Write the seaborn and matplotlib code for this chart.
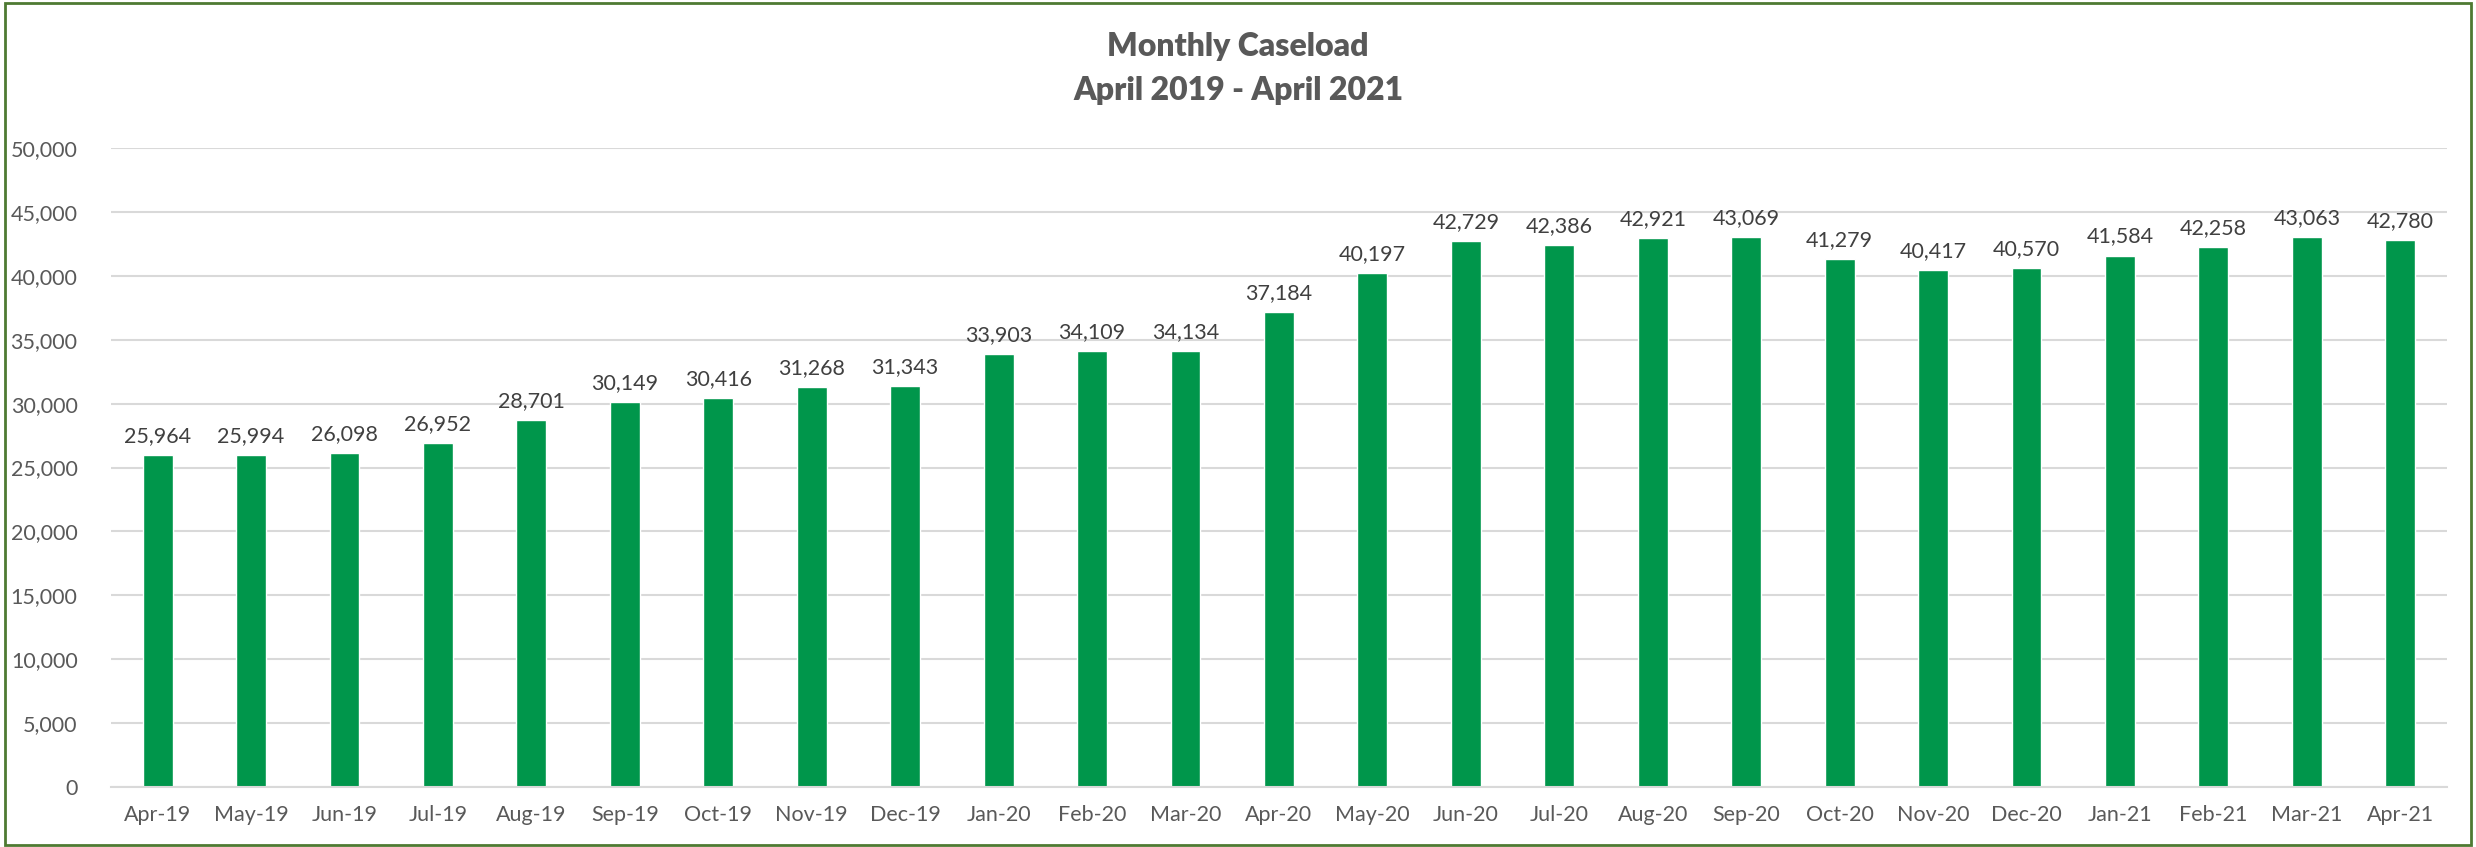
import pandas as pd
import matplotlib.pyplot as plt
import seaborn as sns
from matplotlib.ticker import FuncFormatter, FixedLocator
from matplotlib.patches import Rectangle

# -------------------------------
# Data
# -------------------------------
months = ["Apr-19", "May-19", "Jun-19", "Jul-19", "Aug-19", "Sep-19", "Oct-19",
          "Nov-19", "Dec-19", "Jan-20", "Feb-20", "Mar-20", "Apr-20", "May-20",
          "Jun-20", "Jul-20", "Aug-20", "Sep-20", "Oct-20", "Nov-20", "Dec-20",
          "Jan-21", "Feb-21", "Mar-21", "Apr-21"]
caseload = [25964, 25994, 26098, 26952, 28701, 30149, 30416, 31268, 31343,
            33903, 34109, 34134, 37184, 40197, 42729, 42386, 42921, 43069,
            41279, 40417, 40570, 41584, 42258, 43063, 42780]

df = pd.DataFrame({"month": months, "caseload": caseload})

# -------------------------------
# Plot
# -------------------------------
sns.set_style("white")
plt.rcParams['font.family'] = ['Lato', 'DejaVu Sans']
text_col = "#595959"

fig = plt.figure(figsize=(24.76, 8.47), dpi=100)
ax = fig.add_axes([0.0448, 0.0708, 0.9435, 0.7545])

sns.barplot(data=df, x="month", y="caseload", color="#00964B",
            width=0.32, saturation=1, ax=ax)

# data labels
for i, v in enumerate(caseload):
    ax.text(i, v + 700, f"{v:,}", ha="center", va="bottom",
            fontsize=15.5, color="#404040")

ax.set_ylim(0, 50000)
ax.set_xlim(-0.5, len(months) - 0.5)
ax.set_yticks(range(0, 50001, 5000))
ax.yaxis.set_major_formatter(FuncFormatter(lambda x, p: f"{int(x):,}"))
ax.grid(axis="y", color="#d9d9d9", linewidth=1.5)
ax.set_axisbelow(True)
ax.set_xlabel("")
ax.set_ylabel("")

for s in ["top", "right", "left"]:
    ax.spines[s].set_visible(False)
ax.spines["bottom"].set_color("#d9d9d9")
ax.spines["bottom"].set_linewidth(1.5)

ax.tick_params(axis="y", length=0, labelsize=15.5, labelcolor=text_col, pad=24)
ax.tick_params(axis="x", which="major", length=0, labelsize=15.5,
               labelcolor=text_col, pad=13)
ax.xaxis.set_minor_locator(FixedLocator([i - 0.5 for i in range(len(months) + 1)]))
ax.tick_params(axis="x", which="minor", length=8, width=1.5, color="#d9d9d9",
               direction="out")

fig.text(0.5, 0.945, "Monthly Caseload", ha="center", va="center",
         fontsize=23, fontweight="heavy", color=text_col)
fig.text(0.5, 0.893, "April 2019 - April 2021", ha="center", va="center",
         fontsize=23, fontweight="heavy", color=text_col)

# outer border
fig.patches.append(Rectangle((0.002, 0.002), 0.996, 0.994, transform=fig.transFigure,
                             fill=False, edgecolor="#4E7A32", linewidth=2))

fig.savefig("out.png", dpi=100)
